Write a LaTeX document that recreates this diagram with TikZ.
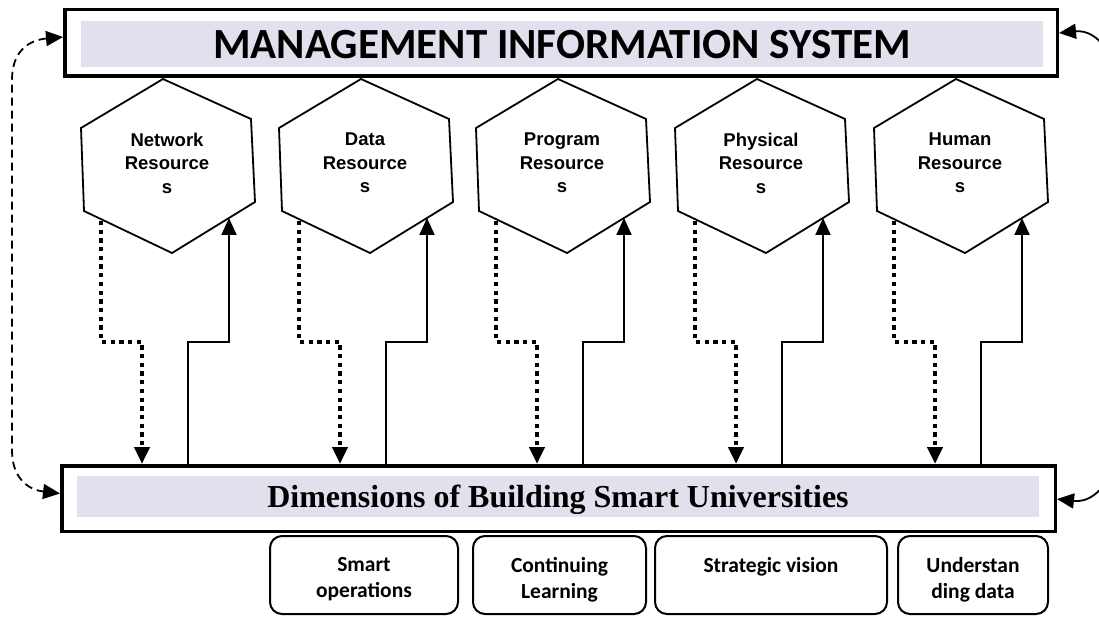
\documentclass[tikz,border=0pt]{standalone}
\usepackage{fontspec}
\newfontfamily\calibrifont{Carlito}
\newfontfamily\arialfont{Liberation Sans}
\newfontfamily\timesfont{Liberation Serif}
\usetikzlibrary{arrows.meta}
\definecolor{bandpurple}{HTML}{E4DFEC}
\tikzset{>={Triangle[length=17pt,width=15pt]}}
\tikzset{
  framebox/.style = {draw, line width=3.5pt, inner sep=0pt},
  bandbox/.style = {fill=bandpurple, inner sep=0pt},
  hexline/.style = {line width=1.8pt, line join=miter},
  hextext/.style = {align=center, font=\arialfont\bfseries\fontsize{18.5}{23.5}\selectfont},
  dimbox/.style = {draw, line width=2pt, rounded corners=12pt, minimum height=78pt, anchor=north west},
  dimtext/.style = {align=center, anchor=north, inner sep=0pt, font=\calibrifont\bfseries\fontsize{21.5}{26}\selectfont},
  dotarrow/.style = {->, line width=4.3pt, dash pattern=on 4.3pt off 4.4pt},
  linearrow/.style = {->, line width=2pt},
  loopdash/.style = {<->, line width=1.8pt, dash pattern=on 8pt off 5pt},
  loopline/.style = {<->, line width=1.8pt}
}
\newcommand{\reshex}[3]{%
  \begin{scope}[shift={(#2,0)}]
    \draw[hexline] (0,79) -- (88,119) -- (92,202) -- (9,253) -- (-79,211) -- (-82,128) -- cycle;%
    \node[hextext] (#1) at (4,163) {#3};%
    \coordinate (#1-out) at (-62,221);%
    \coordinate (#1-down) at (-21,0);%
    \coordinate (#1-up) at (25,0);%
    \coordinate (#1-in) at (66,218);%
  \end{scope}
}
\begin{document}
\begin{tikzpicture}[x=1pt, y=-1pt]
  \useasboundingbox (0,0) rectangle (1099,617);
  % frames
  \node[framebox, minimum width=992.5pt, minimum height=66.5pt] (mis) at (561,43) {};
  \node[bandbox, minimum width=962pt, minimum height=46pt, text depth=0pt,
        font=\calibrifont\bfseries\fontsize{43}{50}\selectfont] (mistitle) at (562,44) {MANAGEMENT INFORMATION SYSTEM};
  \node[framebox, minimum width=993.5pt, minimum height=65.5pt] (dim) at (558.5,498.5) {};
  \node[bandbox, minimum width=962pt, minimum height=41pt, text depth=0pt,
        font=\timesfont\bfseries\fontsize{32}{38}\selectfont] (dimtitle) at (558,496.5) {Dimensions of Building Smart Universities};
  % resources
  \reshex{net}{163}{Network\\Resource\\s}
  \reshex{data}{361}{Data\\Resource\\s}
  \reshex{prog}{558}{Program\\Resource\\s}
  \reshex{phys}{757}{Physical\\Resource\\s}
  \reshex{hum}{956}{Human\\Resource\\s}
  % arrows
  \draw[dotarrow] (net-out) -- ++(0,121) -| (net-down |- dim.north);
  \draw[linearrow] (net-up |- dim.north) -- ++(0,-122) -| (net-in);
  \draw[dotarrow] (data-out) -- ++(0,121) -| (data-down |- dim.north);
  \draw[linearrow] (data-up |- dim.north) -- ++(0,-122) -| (data-in);
  \draw[dotarrow] (prog-out) -- ++(0,121) -| (prog-down |- dim.north);
  \draw[linearrow] (prog-up |- dim.north) -- ++(0,-122) -| (prog-in);
  \draw[dotarrow] (phys-out) -- ++(0,121) -| (phys-down |- dim.north);
  \draw[linearrow] (phys-up |- dim.north) -- ++(0,-122) -| (phys-in);
  \draw[dotarrow] (hum-out) -- ++(0,121) -| (hum-down |- dim.north);
  \draw[linearrow] (hum-up |- dim.north) -- ++(0,-122) -| (hum-in);
  % feedback loops
  \coordinate (lefttop) at (12,80);
  \coordinate (leftbot) at (12,450);
  \draw[loopdash] ([yshift=6pt]mis.west) .. controls (30,40) and (12,50) .. (lefttop)
    -- (leftbot) .. controls (12,480) and (30,490) .. ([yshift=5pt]dim.west);
  \draw[loopline] ([yshift=10pt]mis.east) .. controls (1170,22) and (1170,512) .. ([yshift=-0.5pt]dim.east);
  % dimensions
  \node[dimbox, minimum width=188pt] (smart) at (269,535) {};
  \node[dimbox, minimum width=173pt] (learn) at (472,535) {};
  \node[dimbox, minimum width=232pt] (vision) at (654,535) {};
  \node[dimbox, minimum width=150pt] (under) at (897,535) {};
  \node[dimtext] (smarttext) at ([yshift=-22pt]smart.north) {Smart\\operations};
  \node[dimtext] (learntext) at ([yshift=-22pt]learn.north) {Continuing\\Learning};
  \node[dimtext] (visiontext) at ([yshift=-22pt]vision.north) {Strategic vision};
  \node[dimtext] (undertext) at ([yshift=-22pt]under.north) {Understan\\ding data};
\end{tikzpicture}
\end{document}
